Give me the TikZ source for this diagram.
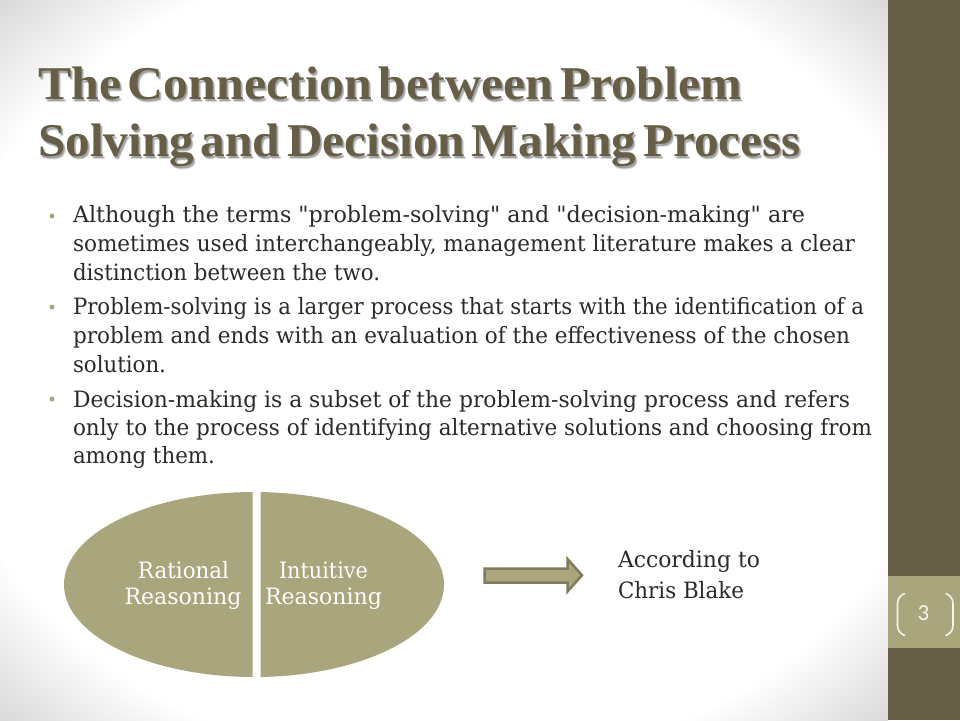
\documentclass[tikz,border=0pt]{standalone}
\usepackage{fontspec}
\usepackage{graphicx}
\setmainfont{DejaVu Serif}
\newfontfamily\bodyfont{DejaVu Serif}
\newfontfamily\titlefont{Liberation Serif Bold}[WordSpace=0.55]
\newfontfamily\numfont{Carlito}
\definecolor{sidedark}{HTML}{675E47}
\definecolor{sidelight}{HTML}{A9A57C}
\definecolor{arrowedge}{HTML}{7F7B5C}
\definecolor{bodyink}{HTML}{2B2A26}
\definecolor{bulletc}{HTML}{A9A57C}
\definecolor{bracketc}{HTML}{F6F5EC}
\pgfdeclareradialshading{slidebg}{\pgfpoint{0bp}{0bp}}{
 color(0bp)=(white);
 color(28.3bp)=(white);
 color(35.4bp)=(black!15);
 color(50bp)=(black!15)}
\newcommand{\fitw}[2]{\resizebox{#1pt}{\height}{#2}}
\newcommand{\ttl}[2]{\fitw{#1}{\titlefont\fontsize{47}{47}\selectfont #2}}
\newcommand{\bdy}[2]{\fitw{#1}{\bodyfont\fontsize{22.5}{24}\selectfont #2}}
\tikzset{
  line/.style={anchor=base west,inner sep=0pt,outer sep=0pt,text=bodyink},
  titleline/.style={anchor=base west,inner sep=0pt,outer sep=0pt,text=sidedark},
  titleshadow/.style={anchor=base west,inner sep=0pt,outer sep=0pt,text=black,opacity=0.14},
  bullet/.style={circle,fill=bulletc,inner sep=0pt,minimum size=5pt},
  halflabel/.style={anchor=base,inner sep=0pt,outer sep=0pt,text=white},
  plainlabel/.style={anchor=base west,inner sep=0pt,outer sep=0pt,text=bodyink},
  bracket/.style={bracketc,line width=1.6pt,line cap=round},
}
\begin{document}
\begin{tikzpicture}[x=1pt,y=-1pt]
\useasboundingbox (0,0) rectangle (960,720);
% background
\shade[shading=slidebg] (0,0) rectangle (888,720);
\fill[sidedark] (888,0) rectangle (960,720);
\fill[sidelight] (888,576) rectangle (960,648);
% title shadow
\foreach \dx/\dy in {1/2,2/2,2/3}{
  \node[titleshadow] at (38+\dx,99+\dy) {\ttl{704}{The Connection between Problem}};
  \node[titleshadow] at (38+\dx,156.5+\dy) {\ttl{763}{Solving and Decision Making Process}};
}
\node[titleline] (t1) at (38,99) {\ttl{704}{The Connection between Problem}};
\node[titleline] (t2) at (38,156.5) {\ttl{763}{Solving and Decision Making Process}};
% bullets
\node[bullet] (b1) at (52,216) {};
\node[bullet] (b2) at (52,307) {};
\node[bullet] (b3) at (52,399) {};
% body
\node[line] (l1) at (73,222) {\bdy{732}{Although the terms "problem-solving" and "decision-making" are}};
\node[line] (l2) at (73,251) {\bdy{782}{sometimes used interchangeably, management literature makes a clear}};
\node[line] (l3) at (73,280) {\bdy{307}{distinction between the two.}};
\node[line] (l4) at (73,314) {\bdy{791}{Problem-solving is a larger process that starts with the identification of a}};
\node[line] (l5) at (73,343) {\bdy{777}{problem and ends with an evaluation of the effectiveness of the chosen}};
\node[line] (l6) at (73,372) {\bdy{93}{solution.}};
\node[line] (l7) at (73,407) {\bdy{777}{Decision-making is a subset of the problem-solving process and refers}};
\node[line] (l8) at (73,435) {\bdy{799}{only to the process of identifying alternative solutions and choosing from}};
\node[line] (l9) at (73,463) {\bdy{142}{among them.}};
% ellipse halves
\begin{scope}
\clip (0,480) rectangle (252.5,690);
\fill[sidelight] (254,584.5) ellipse [x radius=190,y radius=92.5];
\end{scope}
\begin{scope}
\clip (260.5,480) rectangle (460,690);
\fill[sidelight] (254,584.5) ellipse [x radius=190,y radius=92.5];
\end{scope}
\node[halflabel] (r1) at (183.5,578) {\bdy{91}{Rational}};
\node[halflabel] (r2) at (183,604) {\bdy{117}{Reasoning}};
\node[halflabel] (i1) at (323.5,578) {\bdy{89}{Intuitive}};
\node[halflabel] (i2) at (323.5,604) {\bdy{117}{Reasoning}};
% arrow
\fill[sidelight,draw=arrowedge,line width=2.5pt,line join=miter]
  (484.5,568.5) -- (567.5,568.5) -- (567.5,559) -- (582,575.2) -- (567.5,591.5) -- (567.5,582.5) -- (484.5,582.5) -- cycle;
% side text
\node[plainlabel] (a1) at (618,567) {\bdy{142}{According to}};
\node[plainlabel] (a2) at (618,598) {\bdy{126}{Chris Blake}};
% page number
\node[anchor=center,inner sep=0pt,text=bracketc] (pg) at (923.5,613) {\numfont\fontsize{23}{23}\selectfont 3};
\draw[bracket] (904.5,593.5) .. controls (899.5,596) and (897.5,599) .. (897.5,604) -- (897.5,625) .. controls (897.5,630) and (899.5,633) .. (904.5,635.5);
\draw[bracket] (946,593.5) .. controls (951,596) and (953,599) .. (953,604) -- (953,625) .. controls (953,630) and (951,633) .. (946,635.5);
\end{tikzpicture}
\end{document}
